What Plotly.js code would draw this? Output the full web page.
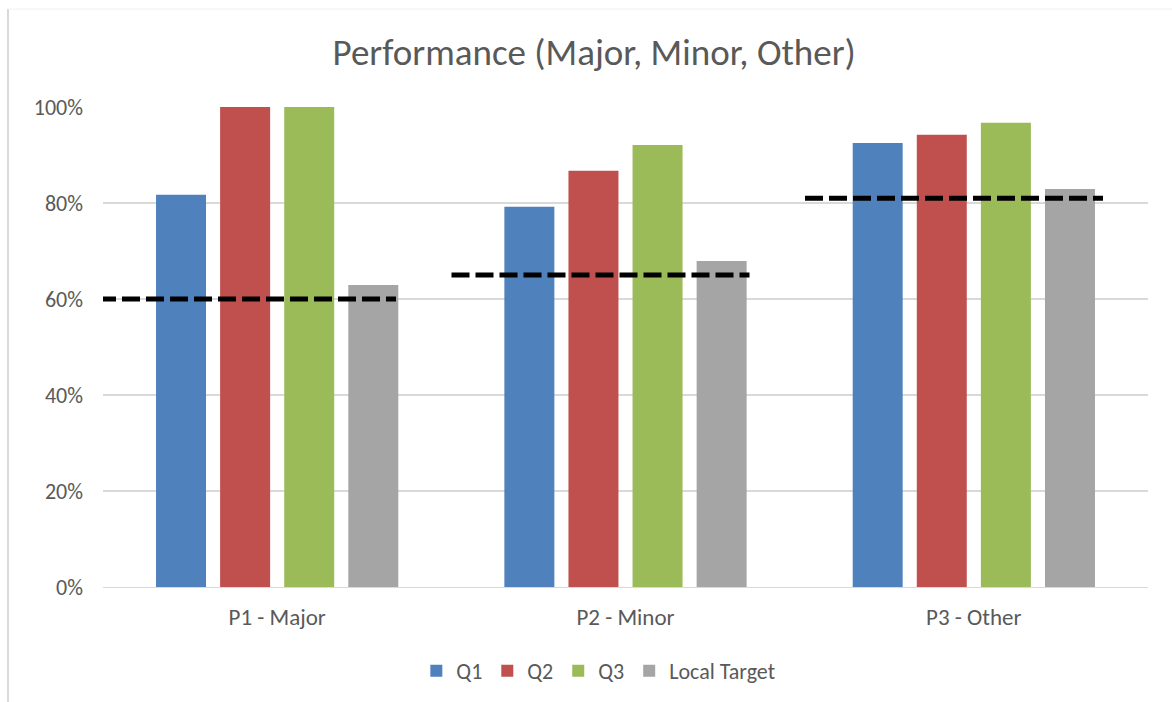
<!DOCTYPE html>
<html>
<head>
<meta charset="utf-8">
<script src="https://cdn.plot.ly/plotly-3.0.1.min.js"></script>
<style>html,body{margin:0;padding:0;background:#fff;}#chart{width:1172px;height:702px;}</style>
</head>
<body>
<div id="chart"></div>
<script>
const categories = ['P1 - Major', 'P2 - Minor', 'P3 - Other'];
const seriesNames = ['Q1', 'Q2', 'Q3', 'Local Target'];
const q1 = [0.817, 0.792, 0.925];
const q2 = [1.0, 0.867, 0.942];
const q3 = [1.0, 0.921, 0.967];
const localTarget = [0.629, 0.679, 0.829];
const target = [0.60, 0.65, 0.81];
const yTickVals = [0, 0.2, 0.4, 0.6, 0.8, 1.0];
const yTickText = ['0%', '20%', '40%', '60%', '80%', '100%'];

const colors = ['#4F81BD', '#C0504D', '#9BBB59', '#A5A5A5'];
const font = "Calibri, Carlito, Lato, 'Open Sans', sans-serif";
const values = [q1, q2, q3, localTarget];

const traces = values.map((v, k) => ({
  type: 'bar', name: seriesNames[k], x: categories, y: v,
  marker: {color: colors[k]}, hoverinfo: 'x+y+name'
}));

const lx = [], ly = [];
target.forEach((t, i) => { lx.push(i, i + 0.843, null); ly.push(t, t, null); });
traces.push({
  type: 'scatter', mode: 'lines', x: lx, y: ly, xaxis: 'x2', showlegend: false,
  line: {color: '#000000', width: 5, dash: '18px,6px'}, hoverinfo: 'skip'
});

const layout = {
  width: 1172, height: 702,
  margin: {l: 103, r: 24, t: 107, b: 115},
  paper_bgcolor: '#ffffff', plot_bgcolor: '#ffffff',
  font: {family: font, color: '#595959', size: 22},
  title: {text: 'Performance (Major, Minor, Other)', font: {family: font, size: 37, color: '#595959'},
          x: 0.507, xref: 'container', xanchor: 'center', y: 0.926, yref: 'container', yanchor: 'middle'},
  barmode: 'group', bargap: 0.264, bargroupgap: 0.22,
  xaxis: {type: 'category', showgrid: false, zeroline: false, showline: true, linecolor: '#d9d9d9', linewidth: 1.3,
          ticks: '', ticklabelstandoff: 9, tickfont: {size: 23, color: '#595959'}, fixedrange: true, automargin: false},
  xaxis2: {overlaying: 'x', range: [5/353.5, 1050/353.5], visible: false, fixedrange: true},
  yaxis: {range: [0, 1.0], tickvals: yTickVals, ticktext: yTickText, showgrid: true, gridcolor: '#d9d9d9', gridwidth: 1.3,
          zeroline: false, showline: false, ticks: '', ticklabelstandoff: 19, tickfont: {size: 22, color: '#595959'}, fixedrange: true, automargin: false},
  legend: {orientation: 'h', x: 0.474, xanchor: 'center', yref: 'container', y: 1 - 671/702, yanchor: 'middle',
           font: {size: 22, color: '#595959'}, itemwidth: 30, traceorder: 'normal'},
  showlegend: true,
  shapes: [
    {type: 'line', xref: 'paper', yref: 'paper', x0: -95/1045, x1: -95/1045, y0: -115/480, y1: 1 + 98/480, line: {color: '#d9d9d9', width: 2}},
    {type: 'line', xref: 'paper', yref: 'paper', x0: -95/1045, x1: 1.03, y0: 1 + 98/480, y1: 1 + 98/480, line: {color: '#f0f0f0', width: 1}}
  ]
};

Plotly.newPlot('chart', traces, layout, {displayModeBar: false, staticPlot: true});
</script>
</body>
</html>
